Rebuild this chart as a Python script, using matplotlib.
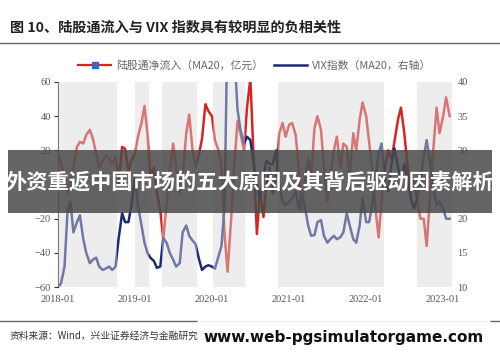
import pandas as pd
import matplotlib
matplotlib.use("Agg")
import matplotlib.pyplot as plt
import matplotlib.dates as mdates
from matplotlib.patches import Rectangle, FancyBboxPatch

plt.rcParams['font.family'] = ['Noto Sans CJK SC', 'DejaVu Sans']

# semi-monthly points, 2018-01-01 .. 2023-02-01
dates = pd.date_range('2018-01-01', '2023-02-01', freq='SMS')

# 陆股通净流入 (MA20, 亿元) - left axis
northbound = [
    18, 12, 5, -5, 2, 10, 22, 25, 24, 29, 32, 27, 18, 10, 14, 17, 15, 12, 16, 0, 22, 21, 8, 14,
    18, 28, 36, 46, 30, 5, 10, -5, -15, -32, -10, 8, 24, 10, -5, 5, 30, 41, 20, 10, 18, 27, 47, 43,
    40, 26, 20, 10, -30, -51, -20, 10, 37, 30, 20, 45, 62, 20, -29, -5, -19, 0, 10, -5, 5, 30, 36, 28,
    35, 36, 29, 10, -15, 0, 15, 5, 33, 40, 32, 10, -10, 5, 20, 28, 10, 24, 22, 5, 30, 20, 38, 48,
    40, 25, 5, -15, -31, -10, 10, 20, 15, 25, 38, 45, 30, 12, -5, 2, -10, -20, -20, -36, -5, 20, 45, 30,
    40, 51, 40,
]

# VIX指数 (MA20) - right axis
vix = [
    10, 10.5, 13, 21, 22.5, 18, 19.5, 20.5, 17, 15, 13.5, 14, 14.3, 13, 12.5, 12.7, 13, 12.5, 13, 17, 20.8, 19.5, 19.5, 22,
    26, 22, 19, 16.5, 15, 14.3, 13.8, 12.8, 13, 17.2, 16.4, 15, 14, 13, 13.5, 18, 19, 17.5, 16.8, 16.3, 14, 12.5, 13, 13.2,
    13, 12.7, 14.5, 16, 22, 50, 58, 45, 36, 33, 31, 32, 31.5, 28.5, 25, 23, 26, 28.5, 28, 28, 30, 25, 22.5, 22,
    22.5, 23, 24, 21.5, 23.5, 22, 19, 17.5, 17.6, 19.5, 19.8, 17.5, 16.5, 17, 17.5, 17, 17.3, 18, 20.8, 19, 17, 16.5, 19, 23,
    19.5, 19.5, 22.5, 26, 29.5, 31, 25, 24, 28, 30.3, 27.5, 26, 28, 26, 23, 21.5, 23, 25.5, 29, 31.5, 28, 24.5, 22, 22.5,
    21.5, 20, 20,
]

# shaded periods
shade_start = ['2018-01-01', '2019-01-01', '2019-05-10', '2020-01-05', '2020-11-10', '2022-09-01']
shade_end = ['2018-10-10', '2019-03-10', '2019-10-20', '2020-06-05', '2022-03-25', '2023-02-12']

fig = plt.figure(figsize=(5, 3.62), dpi=100)
ax1 = fig.add_axes([0.116, 0.207, 0.788, 0.5665])
ax2 = ax1.twinx()

l1, = ax1.plot(dates, northbound, color='#d92424', lw=1.8, zorder=2)
l2, = ax2.plot(dates, vix, color='#1c2a78', lw=1.8, zorder=2)

for s, e in zip(shade_start, shade_end):
    ax2.axvspan(pd.Timestamp(s), pd.Timestamp(e), color='#d9d9d9', alpha=0.45, lw=0, zorder=3)

ax1.set_ylim(-60, 60)
ax1.set_yticks(range(-60, 61, 20))
ax2.set_ylim(10, 40)
ax2.set_yticks(range(10, 41, 5))
ax1.set_xlim(pd.Timestamp('2018-01-01'), pd.Timestamp('2023-02-12'))
ax1.xaxis.set_major_locator(mdates.YearLocator())
ax1.xaxis.set_major_formatter(mdates.DateFormatter('%Y-%m'))

for ax in (ax1, ax2):
    for sp in ('top', 'right', 'bottom'):
        ax.spines[sp].set_visible(False)
    ax.tick_params(labelsize=7.5, labelcolor='#555555')
    for lab in ax.get_xticklabels() + ax.get_yticklabels():
        lab.set_family('Liberation Serif')
ax2.spines['left'].set_visible(False)
ax1.spines['left'].set_color('#333333')
ax1.tick_params(axis='y', length=3, color='#333333', pad=2)
ax1.tick_params(axis='x', length=0, pad=6)
ax2.tick_params(axis='y', length=0, pad=4)

# tick labels hidden behind the banner in the reference
ax1.get_yticklabels()[3].set_visible(False)
ax2.get_yticklabels()[3].set_visible(False)

# legend
l1_handle, = ax1.plot([], [], color='#d92424', lw=1.6, marker='s', ms=4, mfc='#3a66c4', mec='#3a66c4')
fig.legend([l1_handle, l2], ['陆股通净流入（MA20，亿元）', 'VIX指数（MA20，右轴）'],
           loc='center', bbox_to_anchor=(0.51, 0.82), ncol=2, frameon=False,
           prop={'size': 7.8}, labelcolor='#666666', handlelength=3.0, columnspacing=1.0,
           handletextpad=0.5)

# title and rules
fig.text(0.02, 0.923, '图 10、陆股通流入与 VIX 指数具有较明显的负相关性',
         fontsize=10.2, fontweight='bold', color='#222222', va='center')
fig.add_artist(plt.Line2D([0, 1], [0.881, 0.881], color='#666666', lw=1))
fig.add_artist(plt.Line2D([0, 1], [0.113, 0.113], color='#666666', lw=1))
fig.text(0.02, 0.073, '资料来源：Wind，兴业证券经济与金融研究院整理',
         fontsize=7, color='#333333', va='center')

# overlay banner
fig.add_artist(Rectangle((0.016, 0.4116), 0.968, 0.174, transform=fig.transFigure,
                         color='#4a4a4a', alpha=0.85, lw=0, zorder=10))
fig.text(0.5, 0.497, '外资重返中国市场的五大原因及其背后驱动因素解析', fontsize=15.3,
         fontweight='bold', color='white', ha='center', va='center', zorder=11)

# watermark box
fig.add_artist(FancyBboxPatch((0.40, 0.03), 0.576, 0.095, transform=fig.transFigure,
                              boxstyle='round,pad=0.005,rounding_size=0.015',
                              fc='white', ec='none', alpha=0.92, zorder=10))
fig.text(0.688, 0.069, 'www.web-pgsimulatorgame.com', fontsize=11, fontweight='bold',
         family='DejaVu Sans', color='#111111', ha='center', va='center', zorder=11)

fig.savefig('out.png', dpi=100)
